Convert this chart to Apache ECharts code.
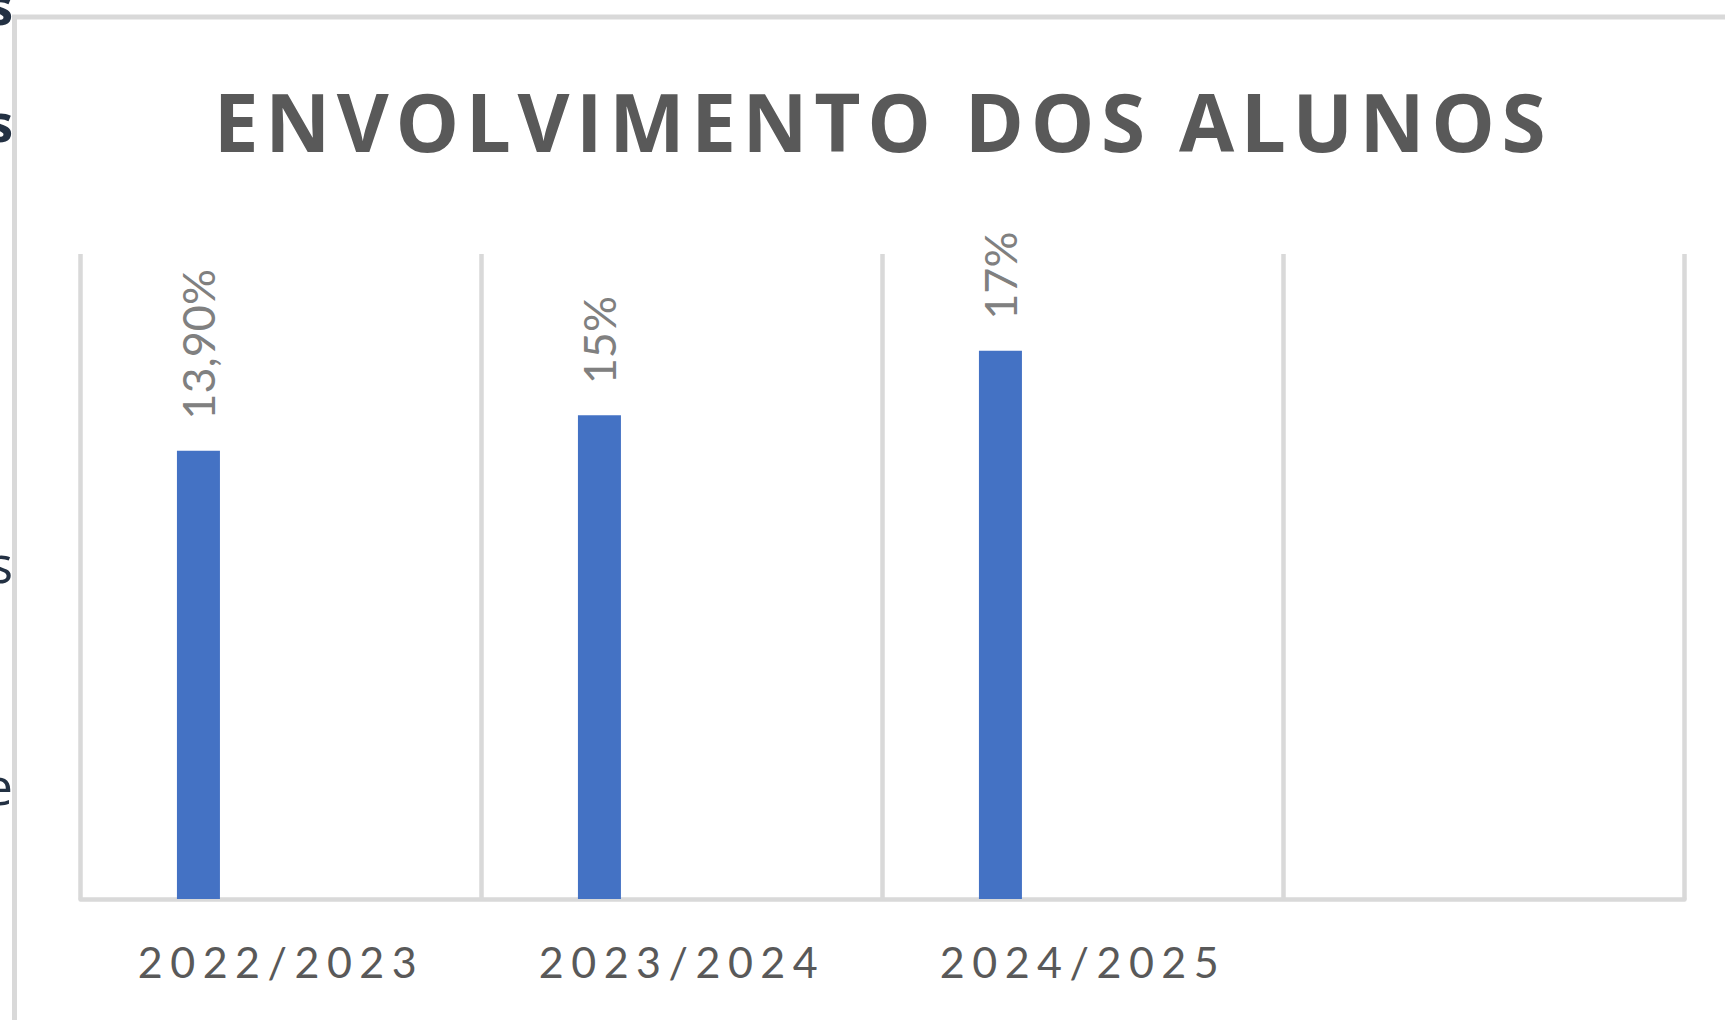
<!DOCTYPE html>
<html>
<head>
<meta charset="utf-8">
<script src="https://cdn.jsdelivr.net/npm/echarts@6/dist/echarts.min.js"></script>
<style>
html,body{margin:0;padding:0;background:#fff;}
#chart{width:1725px;height:1020px;}
</style>
</head>
<body>
<div id="chart"></div>
<script>
// ---- data ----
const titleText = 'ENVOLVIMENTO DOS ALUNOS';
const categories = ['2022/2023', '2023/2024', '2024/2025', ''];
const values = [13.9, 15, 17, '-'];
const valueLabels = ['13,90%', '15%', '17%', ''];
// empty series kept from the original clustered layout (no values)
const emptySeriesA = ['-', '-', '-', '-'];
const emptySeriesB = ['-', '-', '-', '-'];
const emptySeriesC = ['-', '-', '-', '-'];
const yMin = 0, yMax = 20, yInterval = 5;
// cropped neighbour glyphs at the left edge
const edgeGlyphs = [
  {t: 's', y: 4, bold: true},
  {t: 's', y: 121, bold: true},
  {t: 's', y: 562, bold: false},
  {t: 'e', y: 784, bold: false}
];

const chart = echarts.init(document.getElementById('chart'), null, {renderer: 'svg'});

const barCommon = {type: 'bar', barWidth: 43, barGap: '28%', silent: true};

const option = {
  animation: false,
  backgroundColor: '#ffffff',
  title: {
    text: titleText,
    left: 883,
    textAlign: 'center',
    top: 80,
    padding: 0,
    textStyle: {fontFamily: 'Open Sans', fontWeight: 'bold', fontSize: 80, color: '#595959'}
  },
  grid: {left: 80.5, right: 40.5, top: 254, bottom: 121, containLabel: false},
  xAxis: {
    type: 'category',
    data: categories,
    boundaryGap: true,
    offset: 2.5,
    axisLine: {show: true, lineStyle: {color: '#d9d9d9', width: 4.5}},
    axisTick: {show: false},
    splitLine: {show: true, lineStyle: {color: '#d9d9d9', width: 4.5}},
    axisLabel: {
      margin: 38.5,
      fontFamily: 'Lato',
      fontSize: 43,
      color: '#595959',
      interval: 0
    }
  },
  yAxis: {
    type: 'value', min: yMin, max: yMax, interval: yInterval, show: false,
    splitLine: {show: false}
  },
  series: [
    Object.assign({}, barCommon, {
      name: 'Envolvimento',
      data: values,
      itemStyle: {color: '#4472c4'},
      label: {
        show: true,
        position: 'top',
        distance: 31,
        rotate: 90,
        align: 'left',
        verticalAlign: 'middle',
        fontFamily: 'Lato',
        fontSize: 45,
        color: '#808080',
        formatter: p => valueLabels[p.dataIndex]
      }
    }),
    Object.assign({}, barCommon, {name: 'S2', data: emptySeriesA, itemStyle: {color: '#ed7d31'}}),
    Object.assign({}, barCommon, {name: 'S3', data: emptySeriesB, itemStyle: {color: '#a5a5a5'}}),
    Object.assign({}, barCommon, {name: 'S4', data: emptySeriesC, itemStyle: {color: '#ffc000'}})
  ],
  graphic: [
    {
      type: 'rect', silent: true, z: -1,
      shape: {x: 14.5, y: 17, width: 3000, height: 3000},
      style: {fill: 'none', stroke: '#d9d9d9', lineWidth: 5}
    }
  ].concat(edgeGlyphs.map(g => ({
    type: 'text', silent: true,
    x: 13, y: g.y,
    style: {
      text: g.t, align: 'right', verticalAlign: 'middle',
      font: (g.bold ? 'bold ' : '') + '52px "Open Sans"',
      fill: '#233143'
    }
  })))
};

chart.setOption(option);

function applySpacing() {
  document.querySelectorAll('#chart svg text').forEach(t => {
    const fs = parseFloat(getComputedStyle(t).fontSize);
    if (Math.abs(fs - 80) < 0.5) t.style.letterSpacing = '6.6px';
    else if (Math.abs(fs - 43) < 0.5) t.style.letterSpacing = '7.5px';
  });
}
applySpacing();
chart.on('finished', applySpacing);
</script>
</body>
</html>
